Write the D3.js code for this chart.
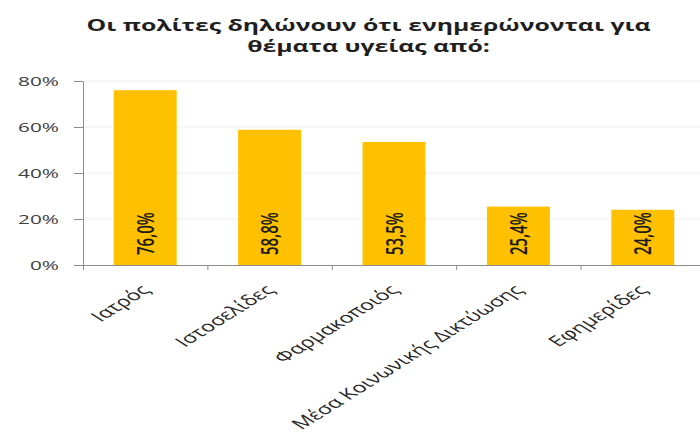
<!DOCTYPE html>
<html>
<head>
<meta charset="utf-8">
<script src="https://cdn.jsdelivr.net/npm/d3@7"></script>
<style>
  html, body { margin: 0; background: #fff; }
  svg { display: block; }
</style>
</head>
<body>
<svg id="chart" width="700" height="432"></svg>
<script>
// Survey: where citizens get their health information (% of respondents)
const titleLines = ["Οι πολίτες δηλώνουν ότι ενημερώνονται για", "θέματα υγείας από:"];
const categories = ["Ιατρός", "Ιστοσελίδες", "Φαρμακοποιός", "Μέσα Κοινωνικής Δικτύωσης", "Εφημερίδες"];
const shares = [76.0, 58.8, 53.5, 25.4, 24.0];
const yTicks = [0, 20, 40, 60, 80];

// Text is drawn with a horizontal stretch, as in the original wide layout
const SX = 1.6;
const FONT = "'Open Sans', 'Noto Sans', sans-serif";

const svg = d3.select("#chart");
const plot = { left: 83, right: 705, top: 81, bottom: 265 };

const x = d3.scaleBand().domain(categories).range([plot.left, plot.right]).padding(0);
const xEdge = d3.scaleLinear().domain([0, categories.length]).range([plot.left, plot.right]);
const y = d3.scaleLinear().domain([0, 80]).range([plot.bottom, plot.top]);
const barW = x.bandwidth() * 0.506;

const greek = d3.formatLocale({ decimal: ",", thousands: ".", grouping: [3], currency: ["", "€"] });
const fmt1 = greek.format(".1f");

const data = categories.map((c, i) => ({ cat: c, value: shares[i] }));

// Title
svg.append("g")
  .selectAll("text")
  .data(titleLines)
  .join("text")
  .attr("transform", (d, i) => `translate(368.5,${31 + i * 20.5}) scale(${SX},1)`)
  .attr("text-anchor", "middle")
  .attr("font-family", FONT)
  .attr("font-weight", 700)
  .attr("font-size", 15.5)
  .attr("fill", "#1f1f1f")
  .text(d => d);

// Horizontal gridlines
svg.append("g")
  .selectAll("line")
  .data(yTicks.filter(t => t > 0))
  .join("line")
  .attr("x1", plot.left).attr("x2", plot.right)
  .attr("y1", d => y(d)).attr("y2", d => y(d))
  .attr("stroke", "#ededed")
  .attr("stroke-width", 1);

// Bars
svg.append("g")
  .selectAll("rect")
  .data(data)
  .join("rect")
  .attr("x", d => x(d.cat) + (x.bandwidth() - barW) / 2)
  .attr("width", barW)
  .attr("y", d => y(d.value))
  .attr("height", d => y(0) - y(d.value))
  .attr("fill", "#FFC000");

// Y axis
const yAxis = svg.append("g")
  .attr("transform", `translate(${plot.left},0)`)
  .call(d3.axisLeft(y).tickValues(yTicks).tickSize(9).tickSizeOuter(0).tickFormat(d => d + "%"));
yAxis.select(".domain").attr("stroke", "#8c8c8c");
yAxis.selectAll(".tick line").attr("stroke", "#8c8c8c");
yAxis.selectAll(".tick text")
  .attr("x", null).attr("dy", null)
  .attr("transform", `translate(-24,4.5) scale(${SX},1)`)
  .attr("text-anchor", "end")
  .attr("font-family", FONT)
  .attr("font-size", 13)
  .attr("fill", "#404040");

// X axis with ticks on category boundaries
const xAxis = svg.append("g")
  .attr("transform", `translate(0,${plot.bottom})`)
  .call(d3.axisBottom(xEdge).tickValues(d3.range(categories.length + 1)).tickSize(5).tickSizeOuter(0).tickFormat(""));
xAxis.select(".domain").attr("stroke", "#8c8c8c");
xAxis.selectAll(".tick line").attr("stroke", "#8c8c8c");

// Category labels, rotated
svg.append("g")
  .selectAll("text")
  .data(data)
  .join("text")
  .attr("transform", d => `translate(${x(d.cat) + x.bandwidth() / 2 + 6},291) scale(${SX},1) rotate(-45)`)
  .attr("text-anchor", "end")
  .attr("font-family", FONT)
  .attr("font-size", 14.6)
  .attr("fill", "#262626")
  .text(d => d.cat);

// Value labels inside the bars, reading upwards
svg.append("g")
  .selectAll("text")
  .data(data)
  .join("text")
  .attr("transform", d => `translate(${x(d.cat) + x.bandwidth() / 2},255) scale(${SX},1) rotate(-90)`)
  .attr("text-anchor", "start")
  .attr("dy", "0.36em")
  .attr("font-family", FONT)
  .attr("font-weight", 600)
  .attr("font-size", 15)
  .attr("fill", "#1a1a1a")
  .text(d => fmt1(d.value) + "%");
</script>
</body>
</html>
